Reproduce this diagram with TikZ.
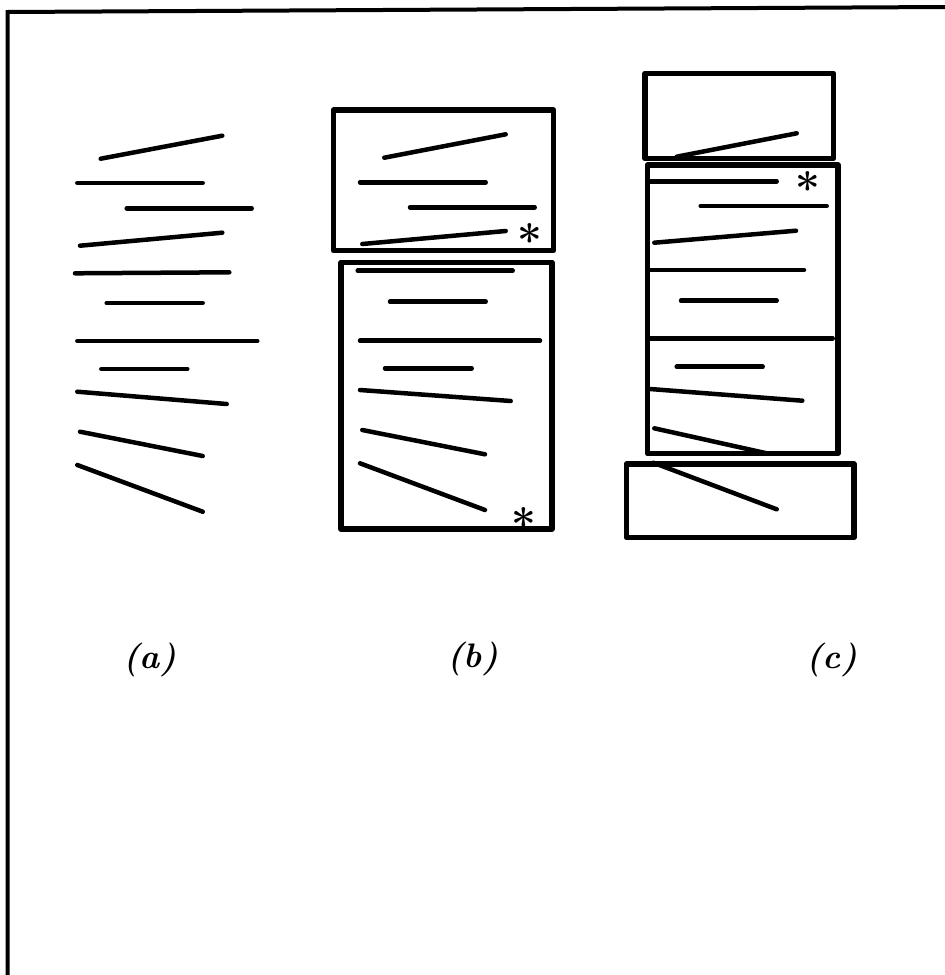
\documentclass[tikz,border=0pt]{standalone}
\usepackage{fontspec}
\begin{document}
\begin{tikzpicture}[x=1pt,y=-1pt,
  seg/.style={line width=4.5pt,line cap=round},
  boxline/.style={line width=5.5pt,line join=round},
  framestyle/.style={line width=4pt},
  lbl/.style={font=\fontsize{34}{40}\selectfont\bfseries\itshape,inner sep=0pt},
  star/.style={font=\fontsize{44}{48}\selectfont\bfseries,inner sep=0pt}]
\useasboundingbox (0,0) rectangle (945,975);
% frame
\coordinate (f1) at (7.5,975);
\coordinate (f2) at (7.5,12);
\coordinate (f3) at (945,7);
\draw[framestyle] (f1) -- (f2) -- (f3);

% (a)
\foreach \xa/\ya/\xb/\yb [count=\i] in {
  100.7/158.7/222.3/135.7,
  77.3/183/202.7/183,
  126.7/208.3/251.7/208.3,
  80/245.7/222.3/232.7,
  75/273.3/229.3/272.3,
  106.7/303/202.7/303,
  77.3/341/257.3/341,
  101.3/369/187.3/369,
  77.3/391.7/226.7/404,
  80/431.7/202.7/456,
  77.3/465/202.7/511.7}{
  \coordinate (a\i s) at (\xa,\ya);
  \coordinate (a\i e) at (\xb,\yb);
  \draw[seg] (a\i s) -- (a\i e);
}

% (b) boxes
\node[boxline,draw,minimum width=220pt,minimum height=140.5pt,inner sep=0pt] (btop) at (443.5,180.25) {};
\node[boxline,draw,minimum width=211pt,minimum height=266.5pt,inner sep=0pt] (bbot) at (446.5,395.75) {};
\foreach \xa/\ya/\xb/\yb [count=\i] in {
  384.3/157.7/505.7/134.3,
  360/182.3/485.7/182.3,
  410/207.3/534.7/207.3,
  362.3/244/505.7/231,
  357.7/270.7/512.7/270.7,
  390/301.7/485.7/301.7,
  360/340.7/540/340.7,
  385/368.3/471.7/368.3,
  360/390/510.7/401,
  362.3/430/485/454.3,
  360/463.3/485/510}{
  \coordinate (b\i s) at (\xa,\ya);
  \coordinate (b\i e) at (\xb,\yb);
  \draw[seg] (b\i s) -- (b\i e);
}
\node[star] (bs1) at (530,240) {*};
\node[star] (bs2) at (524.3,524) {*};

% (c) boxes
\node[boxline,draw,minimum width=188.5pt,minimum height=85pt,inner sep=0pt] (ctop) at (739.25,116) {};
\node[boxline,draw,minimum width=190.5pt,minimum height=288.5pt,inner sep=0pt] (cmid) at (742.75,309.25) {};
\node[boxline,draw,minimum width=227.5pt,minimum height=73.5pt,inner sep=0pt] (cbot) at (740.25,500.75) {};
\foreach \xa/\ya/\xb/\yb [count=\i] in {
  676.7/156.7/796.7/133.3,
  650/181.3/776.7/181.3,
  700.7/206/826.7/206,
  654.3/242.7/796/230.7,
  650/270/804/270,
  681/300.7/776.7/300.7,
  650/338.3/832.7/338.3,
  676.7/366.7/762.7/366.7,
  650/389/802.3/400.7,
  654.3/428.3/766.7/453.3,
  653.3/462.7/776.7/509.3}{
  \coordinate (c\i s) at (\xa,\ya);
  \coordinate (c\i e) at (\xb,\yb);
  \draw[seg] (c\i s) -- (c\i e);
}
\node[star] (cs1) at (808.3,188) {*};

% labels
\node[lbl] (la) at (150,660) {(a)};
\node[lbl] (lb) at (473,659) {(b)};
\node[lbl] (lc) at (832,660) {(c)};
\end{tikzpicture}
\end{document}
